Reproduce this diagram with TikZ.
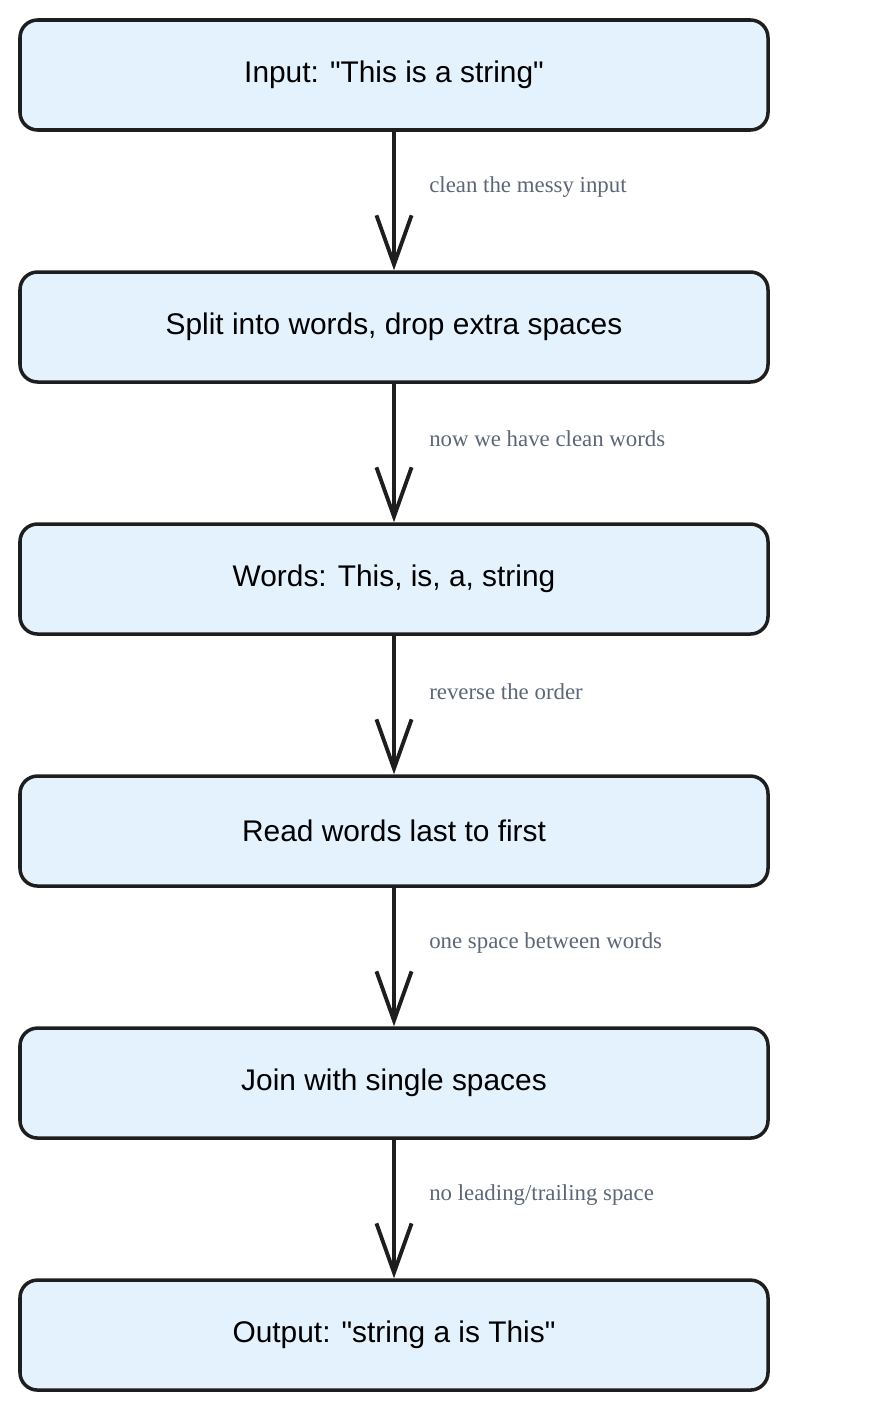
\documentclass[tikz,border=0pt]{standalone}
\usepackage{fontspec}
\setmainfont{Liberation Serif}
\setsansfont{Liberation Sans}
\usetikzlibrary{positioning,arrows.meta}
\definecolor{boxfill}{HTML}{E3F2FD}
\definecolor{boxline}{HTML}{1E1E1E}
\definecolor{notegray}{HTML}{5C6677}
\begin{document}
\begin{tikzpicture}[
		> = {Straight Barb[length=28pt,width=20pt,line width=2.2pt]}, % arrow head style
		node distance = 2.77cm, % distance between boxes
		stage/.style = {draw=boxline, line width=2pt, rounded corners=10pt, fill=boxfill,
			minimum width=14.96cm, minimum height=2.2cm, font=\sffamily\fontsize{17}{20}\selectfont},
		note/.style = {font=\fontsize{13}{15}\selectfont, text=notegray, anchor=west}
		]
		\useasboundingbox (0,0) rectangle (17.88,-28.24);
		
		\node[stage] (input) at (7.88,-1.5) {Input: \textquotedbl This is a string\textquotedbl};
		\node[stage] (split) [below=of input] {Split into words, drop extra spaces};
		\node[stage] (words) [below=of split] {Words: This, is, a, string};
		\node[stage] (read) [below=of words] {Read words last to first};
		\node[stage] (join) [below=of read] {Join with single spaces};
		\node[stage] (output) [below=of join] {Output: \textquotedbl string a is This\textquotedbl};
		
		\draw[->, line width=2.2pt, draw=boxline]
		(input) -- node[note, pos=0.4, xshift=0.55cm] {clean the messy input} (split);
		\draw[->, line width=2.2pt, draw=boxline]
		(split) -- node[note, pos=0.4, xshift=0.55cm] {now we have clean words} (words);
		\draw[->, line width=2.2pt, draw=boxline]
		(words) -- node[note, pos=0.4, xshift=0.55cm] {reverse the order} (read);
		\draw[->, line width=2.2pt, draw=boxline]
		(read) -- node[note, pos=0.4, xshift=0.55cm] {one space between words} (join);
		\draw[->, line width=2.2pt, draw=boxline]
		(join) -- node[note, pos=0.4, xshift=0.55cm] {no leading/trailing space} (output);
		
	\end{tikzpicture}
\end{document}
